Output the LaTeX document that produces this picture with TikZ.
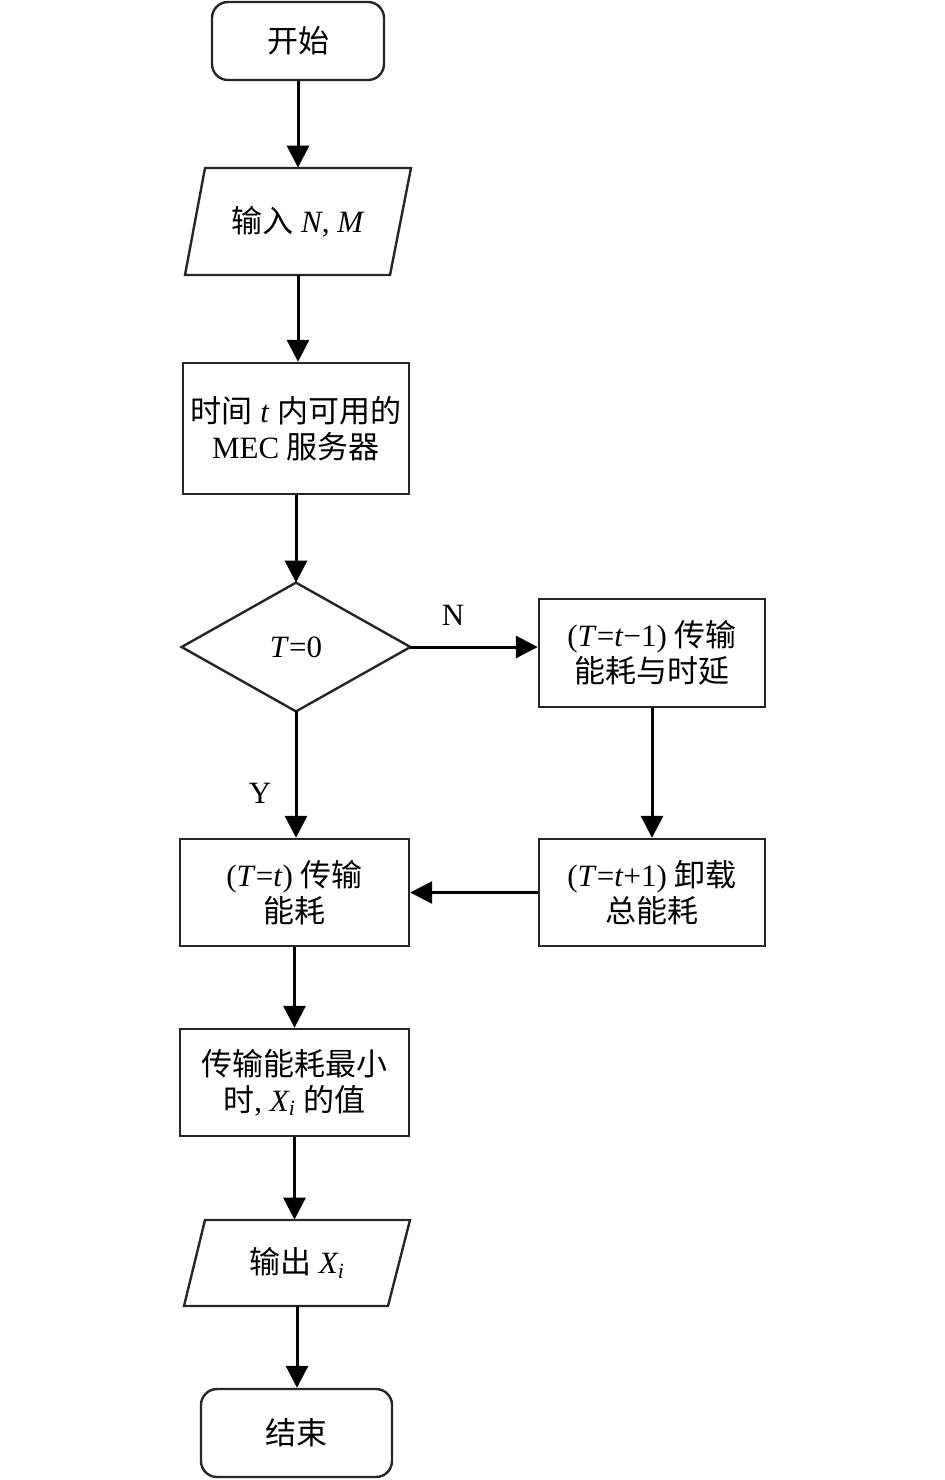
\documentclass[tikz,border=0pt]{standalone}
\usepackage{fontspec}
\setmainfont{Liberation Serif}
\newfontfamily\cjkfam{Noto Sans CJK SC}
\newcommand\zhtext[1]{{\cjkfam #1}}
\usetikzlibrary{arrows.meta}
\begin{document}
\begin{tikzpicture}[x=0.5pt,y=-0.5pt,
  boxline/.style={draw=black!85,line width=1.2pt},
  txt/.style={font=\fontsize{15.5pt}{18pt}\selectfont,align=center,inner sep=0pt},
  arr/.style={line width=1.5pt,-{Triangle[length=11pt,width=11pt]}},
  lbl/.style={font=\fontsize{15.5pt}{18pt}\selectfont,inner sep=0pt}]
\useasboundingbox (0,0) rectangle (945,1480);

% start
\node[txt,boxline,rounded corners=8pt,minimum width=86pt,minimum height=39pt] (start) at (298,41) {\zhtext{开始}};
% input
\node[txt,minimum width=113pt,minimum height=53.5pt] (in) at (298,221.5) {\zhtext{输入} \textit{N}, \textit{M}};
\draw[boxline] (205,168) -- (411,168) -- (390,275) -- (185,275) -- cycle;
% box 1
\node[txt,boxline,minimum width=113pt,minimum height=65.5pt] (b1) at (296,428.5) {\zhtext{时间} \textit{t} \zhtext{内可用的}\\MEC \zhtext{服务器}};
% decision
\node[txt,minimum width=114pt,minimum height=64pt] (dec) at (296,647) {\textit{T}=0};
\draw[boxline] (dec.north) -- (dec.east) -- (dec.south) -- (dec.west) -- cycle;
% right boxes
\node[txt,boxline,minimum width=113pt,minimum height=54pt] (r1) at (652,653) {(\textit{T}=\textit{t}−1) \zhtext{传输}\\\zhtext{能耗与时延}};
\node[txt,boxline,minimum width=113pt,minimum height=53.5pt] (r2) at (652,892.5) {(\textit{T}=\textit{t}+1) \zhtext{卸载}\\\zhtext{总能耗}};
% left boxes
\node[txt,boxline,minimum width=114.5pt,minimum height=53.5pt] (b2) at (294.5,892.5) {(\textit{T}=\textit{t}) \zhtext{传输}\\\zhtext{能耗}};
\node[txt,boxline,minimum width=114.5pt,minimum height=53.5pt] (b3) at (294.5,1082.5) {\zhtext{传输能耗最小}\\\zhtext{时}, \textit{X\textsubscript{i}} \zhtext{的值}};
% output
\node[txt,minimum width=113pt,minimum height=43pt] (out) at (297,1263) {\zhtext{输出} \textit{X\textsubscript{i}}};
\draw[boxline] (205,1220) -- (410,1220) -- (388,1306) -- (184,1306) -- cycle;
% end
\node[txt,boxline,rounded corners=8pt,minimum width=95.5pt,minimum height=44pt] (end) at (296.5,1433) {\zhtext{结束}};

% connectors
\draw[arr] (start.south) -- (start.south |- in.north);
\draw[arr] (in.south) -- (in.south |- b1.north);
\draw[arr] (b1.south) -- (b1.south |- dec.north);
\draw[arr] (dec.east) -- (r1.west |- dec.east);
\draw[arr] (r1.south) -- (r2.north);
\draw[arr] (r2.west) -- (b2.east);
\draw[arr] (dec.south) -- (dec.south |- b2.north);
\draw[arr] (b2.south) -- (b2.south |- b3.north);
\draw[arr] (b3.south) -- (b3.south |- out.north);
\draw[arr] (out.south) -- (out.south |- end.north);

% labels
\node[lbl] (lN) at (453,615) {N};
\node[lbl] (lY) at (260,793) {Y};
\end{tikzpicture}
\end{document}
